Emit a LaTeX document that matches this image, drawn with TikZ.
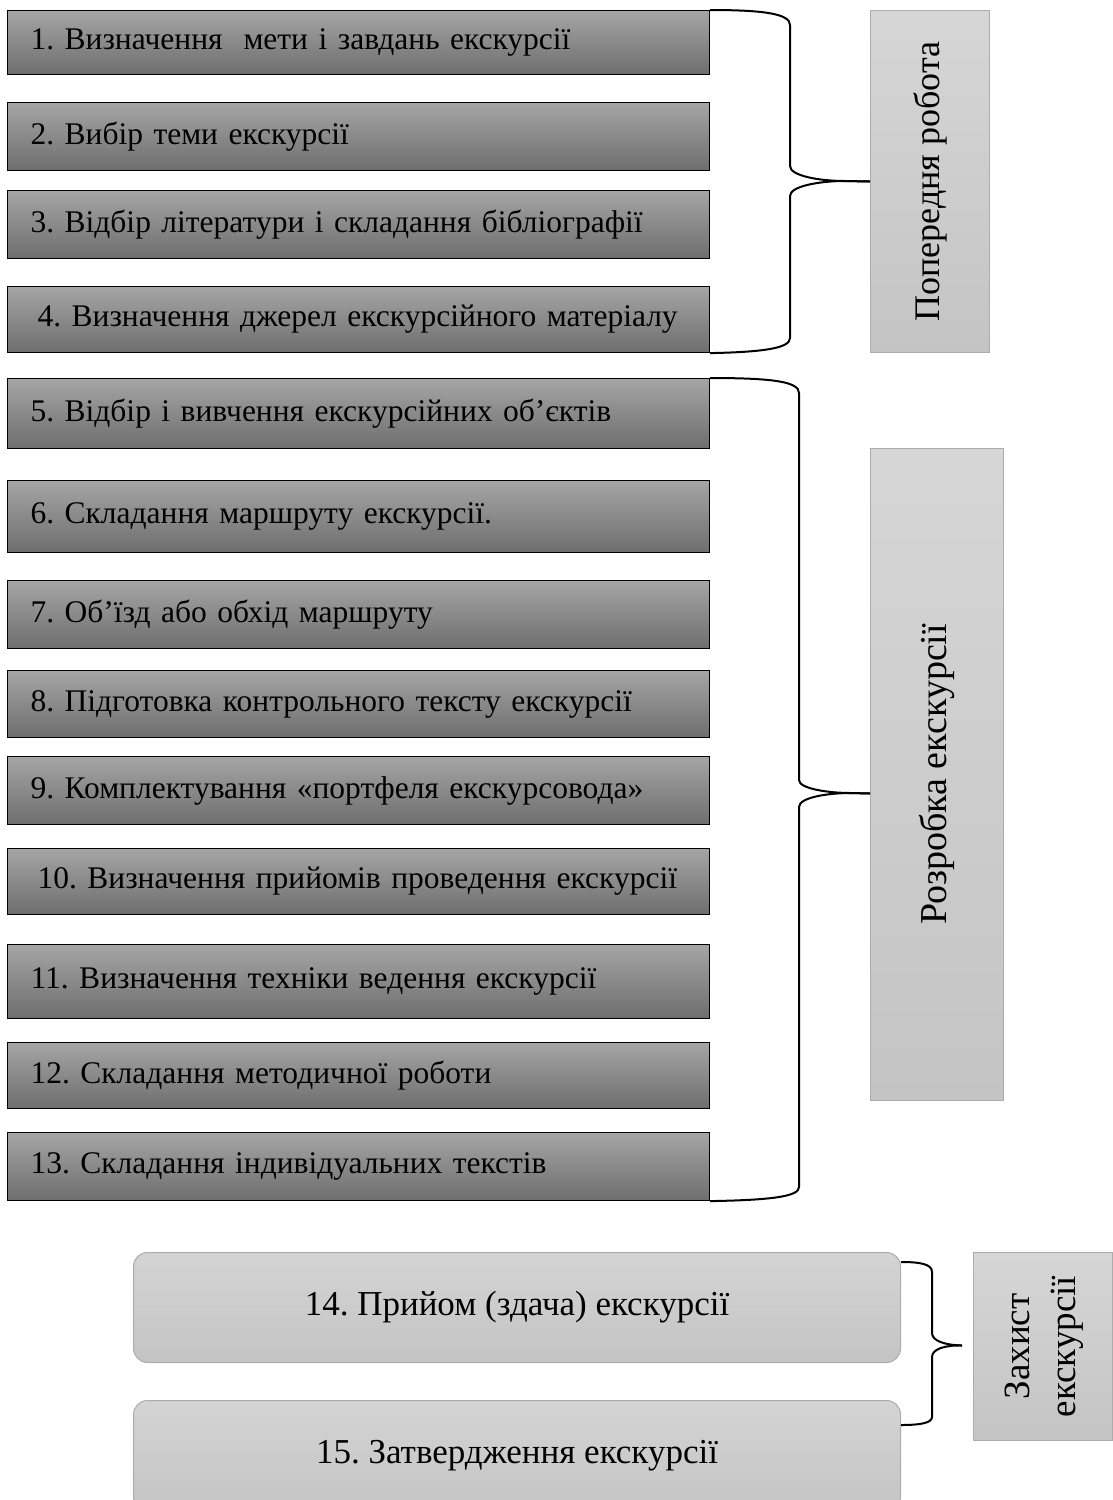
\documentclass[tikz,border=0pt]{standalone}
\usepackage{fontspec}
\setmainfont{Liberation Serif}
\usetikzlibrary{calc}
\definecolor{dtop}{RGB}{165,165,165}
\definecolor{dbot}{RGB}{110,110,110}
\definecolor{ltop}{RGB}{214,214,214}
\definecolor{lbot}{RGB}{196,196,196}
\definecolor{rtop}{RGB}{212,212,212}
\definecolor{rbot}{RGB}{196,196,196}
\definecolor{lborder}{RGB}{172,172,172}
\frenchspacing
\begin{document}
\begin{tikzpicture}[x=1pt,y=-1pt,
  darkbox/.style={draw=black, line width=1.1pt, top color=dtop, bottom color=dbot,
    anchor=north west, inner xsep=23pt, text width=656pt, align=left,
    font=\fontsize{31.5}{36}\selectfont},
  labbox/.style={draw=lborder, line width=1pt, top color=ltop, bottom color=lbot,
    anchor=north west, inner sep=0pt, font=\fontsize{36}{46}\selectfont},
  roundbox/.style={draw=lborder, line width=1pt, top color=rtop, bottom color=rbot,
    rounded corners=14pt, anchor=north west, minimum width=767pt, minimum height=110pt,
    font=\fontsize{35}{40}\selectfont},
  brc/.style={draw=black, line width=2pt}]
\useasboundingbox (0,0) rectangle (1112,1500);
% left boxes
\node[darkbox, minimum height=64pt] (b1) at (7,10) {1. Визначення\ \ мети і завдань екскурсії};
\node[darkbox, minimum height=68pt] (b2) at (7,102) {2. Вибір теми екскурсії};
\node[darkbox, minimum height=68pt] (b3) at (7,190) {3. Відбір літератури і складання бібліографії};
\node[darkbox, minimum height=66pt] (b4) at (7,286) {\hspace*{7pt}4. Визначення\ джерел\ екскурсійного\ матеріалу};
\node[darkbox, minimum height=70pt] (b5) at (7,378) {5. Відбір і вивчення екскурсійних об’єктів};
\node[darkbox, minimum height=72pt] (b6) at (7,480) {6. Складання маршруту екскурсії.};
\node[darkbox, minimum height=68pt] (b7) at (7,580) {7. Об’їзд або обхід маршруту};
\node[darkbox, minimum height=67pt] (b8) at (7,670) {8. Підготовка контрольного тексту екскурсії};
\node[darkbox, minimum height=68pt] (b9) at (7,756) {9. Комплектування «портфеля екскурсовода»};
\node[darkbox, minimum height=66pt] (b10) at (7,848) {\hspace*{7pt}10. Визначення прийомів проведення екскурсії};
\node[darkbox, minimum height=74pt] (b11) at (7,944) {11. Визначення техніки ведення екскурсії};
\node[darkbox, minimum height=66pt] (b12) at (7,1042) {12. Складання методичної роботи};
\node[darkbox, minimum height=68pt] (b13) at (7,1132) {13. Складання індивідуальних текстів};
% labels
\node[labbox, minimum width=119pt, minimum height=342pt] (lab1) at (870,10) {\rotatebox{90}{Попередня робота}};
\node[labbox, minimum width=133pt, minimum height=652pt, font=\fontsize{38}{46}\selectfont] (lab2) at (870,448) {\rotatebox{90}{Розробка екскурсії}};
\node[labbox, minimum width=139pt, minimum height=188pt, font=\fontsize{37}{46}\selectfont] (lab3) at (973,1252) {\rotatebox{90}{\begin{tabular}{@{}c@{}}Захист\\екскурсії\end{tabular}}};
% bottom boxes
\node[roundbox] (b14) at (133,1252) {14. Прийом (здача) екскурсії};
\node[roundbox] (b15) at (133,1400) {15. Затвердження екскурсії};
% braces
\coordinate (t1) at (lab1.west);
\coordinate (t2) at ($(lab2.west)+(0,19)$);
\coordinate (t3) at ($(lab3.west)+(-11,-1)$);
\draw[brc] (b1.north east) .. controls (765,10) and (790,14) .. (790,25) -- (790,166)
  .. controls (790,176) and (820,181) .. (845,181) -- (t1);
\draw[brc] (t1) -- (845,181) .. controls (820,181) and (790,186) .. (790,196) -- (790,338)
  .. controls (790,348) and (765,352) .. (b4.south east);
\draw[brc] (b5.north east) .. controls (775,378) and (799,382) .. (799,393) -- (799,780)
  .. controls (799,789) and (830,793) .. (850,793) -- (t2);
\draw[brc] (t2) -- (850,793) .. controls (830,793) and (799,797) .. (799,807) -- (799,1187)
  .. controls (799,1196) and (775,1200) .. (b13.south east);
\coordinate (b14r) at ($(b14.north east)+(0,10)$);
\coordinate (b15r) at ($(b15.north east)+(0,25)$);
\draw[brc] (b14r) .. controls (920,1262) and (932,1264) .. (932,1272) -- (932,1333)
  .. controls (932,1341) and (945,1345) .. (t3);
\draw[brc] (t3) .. controls (945,1345) and (932,1349) .. (932,1357) -- (932,1417)
  .. controls (932,1423) and (920,1425) .. (b15r);
\end{tikzpicture}
\end{document}
